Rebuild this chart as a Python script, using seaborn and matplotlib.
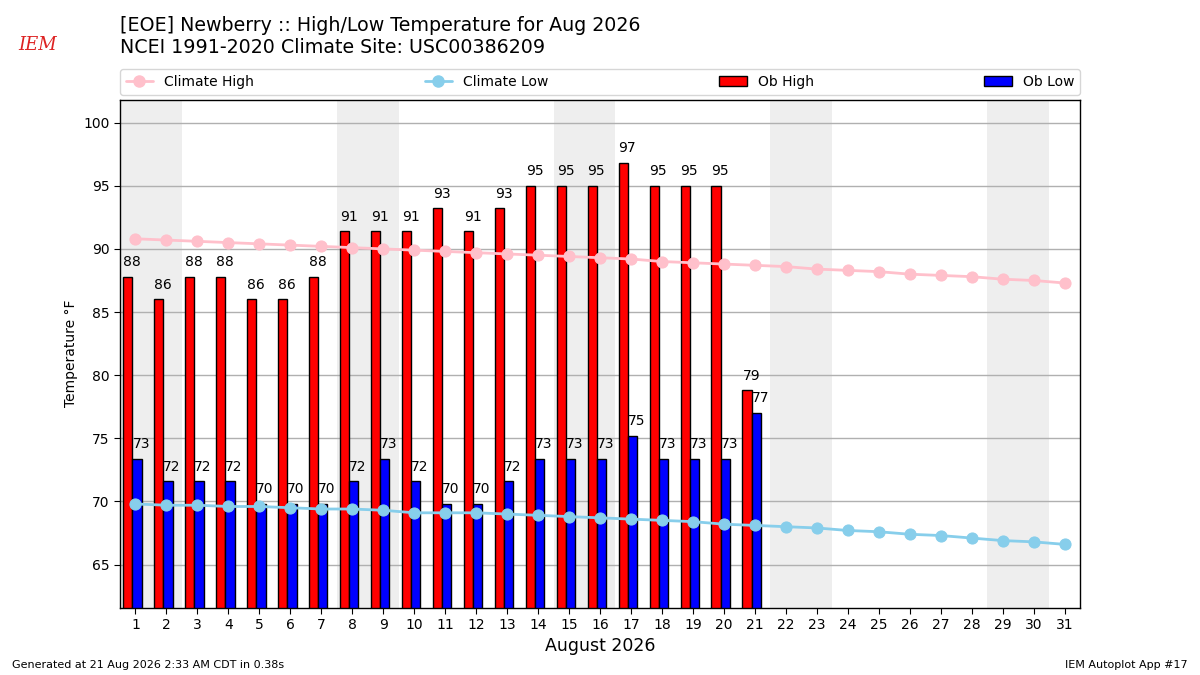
import numpy as np
import pandas as pd
import matplotlib
matplotlib.use("Agg")
import matplotlib.pyplot as plt
from matplotlib.lines import Line2D
from matplotlib.patches import Patch
import seaborn as sns

days = list(range(1, 32))
ob_days = list(range(1, 22))
ob_high = [87.8, 86.0, 87.8, 87.8, 86.0, 86.0, 87.8, 91.4, 91.4, 91.4, 93.2,
           91.4, 93.2, 95.0, 95.0, 95.0, 96.8, 95.0, 95.0, 95.0, 78.8]
ob_low = [73.4, 71.6, 71.6, 71.6, 69.8, 69.8, 69.8, 71.6, 73.4, 71.6, 69.8,
          69.8, 71.6, 73.4, 73.4, 73.4, 75.2, 73.4, 73.4, 73.4, 77.0]
clim_high = [90.8, 90.7, 90.6, 90.5, 90.4, 90.3, 90.2, 90.1, 90.0, 89.9, 89.8,
             89.7, 89.6, 89.5, 89.4, 89.3, 89.2, 89.0, 88.9, 88.8, 88.7,
             88.6, 88.4, 88.3, 88.2, 88.0, 87.9, 87.8, 87.6, 87.5, 87.3]
clim_low = [69.8, 69.7, 69.7, 69.6, 69.6, 69.5, 69.4, 69.4, 69.3, 69.1, 69.1,
            69.1, 69.0, 68.9, 68.8, 68.7, 68.6, 68.5, 68.4, 68.2, 68.1,
            68.0, 67.9, 67.7, 67.6, 67.4, 67.3, 67.1, 66.9, 66.8, 66.6]
weekend_starts = [1, 8, 15, 22, 29]

sns.set_style("white")
plt.rcParams["font.family"] = ["DejaVu Sans"]
plt.rcParams["text.color"] = "black"
plt.rcParams["axes.labelcolor"] = "black"
plt.rcParams["xtick.color"] = "black"
plt.rcParams["ytick.color"] = "black"

fig = plt.figure(figsize=(12, 6.75), dpi=100)
ax = fig.add_axes([0.1, 0.1, 0.8, 0.752])

for ws in weekend_starts:
    ax.axvspan(ws - 0.5, ws + 1.5, color="#eeeeee", zorder=0, lw=0)

ax.set_axisbelow(True)
ax.yaxis.grid(True, color="#b0b0b0", lw=1)

hi_df = pd.DataFrame({"x": np.array(ob_days) - 0.25, "v": ob_high})
lo_df = pd.DataFrame({"x": np.array(ob_days) + 0.05, "v": ob_low})
sns.barplot(data=hi_df, x="x", y="v", native_scale=True, width=0.3,
            color="red", saturation=1, edgecolor="black", linewidth=1,
            errorbar=None, ax=ax, zorder=2)
sns.barplot(data=lo_df, x="x", y="v", native_scale=True, width=0.3,
            color="blue", saturation=1, edgecolor="black", linewidth=1,
            errorbar=None, ax=ax, zorder=2)

for d, v in zip(ob_days, ob_high):
    ax.text(d - 0.4, v + 0.6, f"{v:.0f}", ha="left", va="bottom", fontsize=10, zorder=5)
for d, v in zip(ob_days, ob_low):
    ax.text(d - 0.1, v + 0.6, f"{v:.0f}", ha="left", va="bottom", fontsize=10, zorder=5)

sns.lineplot(x=days, y=clim_high, color="pink", marker="o", markersize=8,
             markeredgecolor="pink", lw=2, ax=ax, zorder=4)
sns.lineplot(x=days, y=clim_low, color="skyblue", marker="o", markersize=8,
             markeredgecolor="skyblue", lw=2, ax=ax, zorder=4)

ax.set_xlim(0.5, 31.5)
ax.set_ylim(min(clim_low) - 5, max(ob_high) + 5)
ax.set_xticks(days)
ax.set_xticklabels([str(d) for d in days])
ax.set_yticks(range(65, 101, 5))
ax.tick_params(axis="both", labelsize=10, length=4, direction="out",
               bottom=True, left=True, colors="black")
for s in ax.spines.values():
    s.set_color("black")
    s.set_linewidth(1)
ax.set_xlabel("August 2026", fontsize=12.5)
ax.set_ylabel("Temperature °F", fontsize=10)

handles = [
    Line2D([], [], color="pink", marker="o", markersize=8, lw=2),
    Line2D([], [], color="skyblue", marker="o", markersize=8, lw=2),
    Patch(facecolor="red", edgecolor="black"),
    Patch(facecolor="blue", edgecolor="black"),
]
labels = ["Climate High", "Climate Low", "Ob High", "Ob Low"]
fig.legend(handles, labels, loc="lower left", ncol=4, mode="expand",
           bbox_to_anchor=(0.1, 0.86, 0.8, 0.04), fontsize=10, frameon=True,
           borderaxespad=0)

fig.text(0.1, 0.962, "[EOE] Newberry :: High/Low Temperature for Aug 2026",
         fontsize=13.7, va="center", ha="left")
fig.text(0.1, 0.929, "NCEI 1991-2020 Climate Site: USC00386209",
         fontsize=13.7, va="center", ha="left")
fig.text(0.031, 0.933, "IEM", color="#dd2222", fontsize=13, family="DejaVu Serif",
         style="italic", ha="center", va="center")
fig.text(0.01, 0.01, "Generated at 21 Aug 2026 2:33 AM CDT in 0.38s", fontsize=8)
fig.text(0.99, 0.01, "IEM Autoplot App #17", fontsize=8, ha="right")

fig.savefig("out.png", dpi=100)
